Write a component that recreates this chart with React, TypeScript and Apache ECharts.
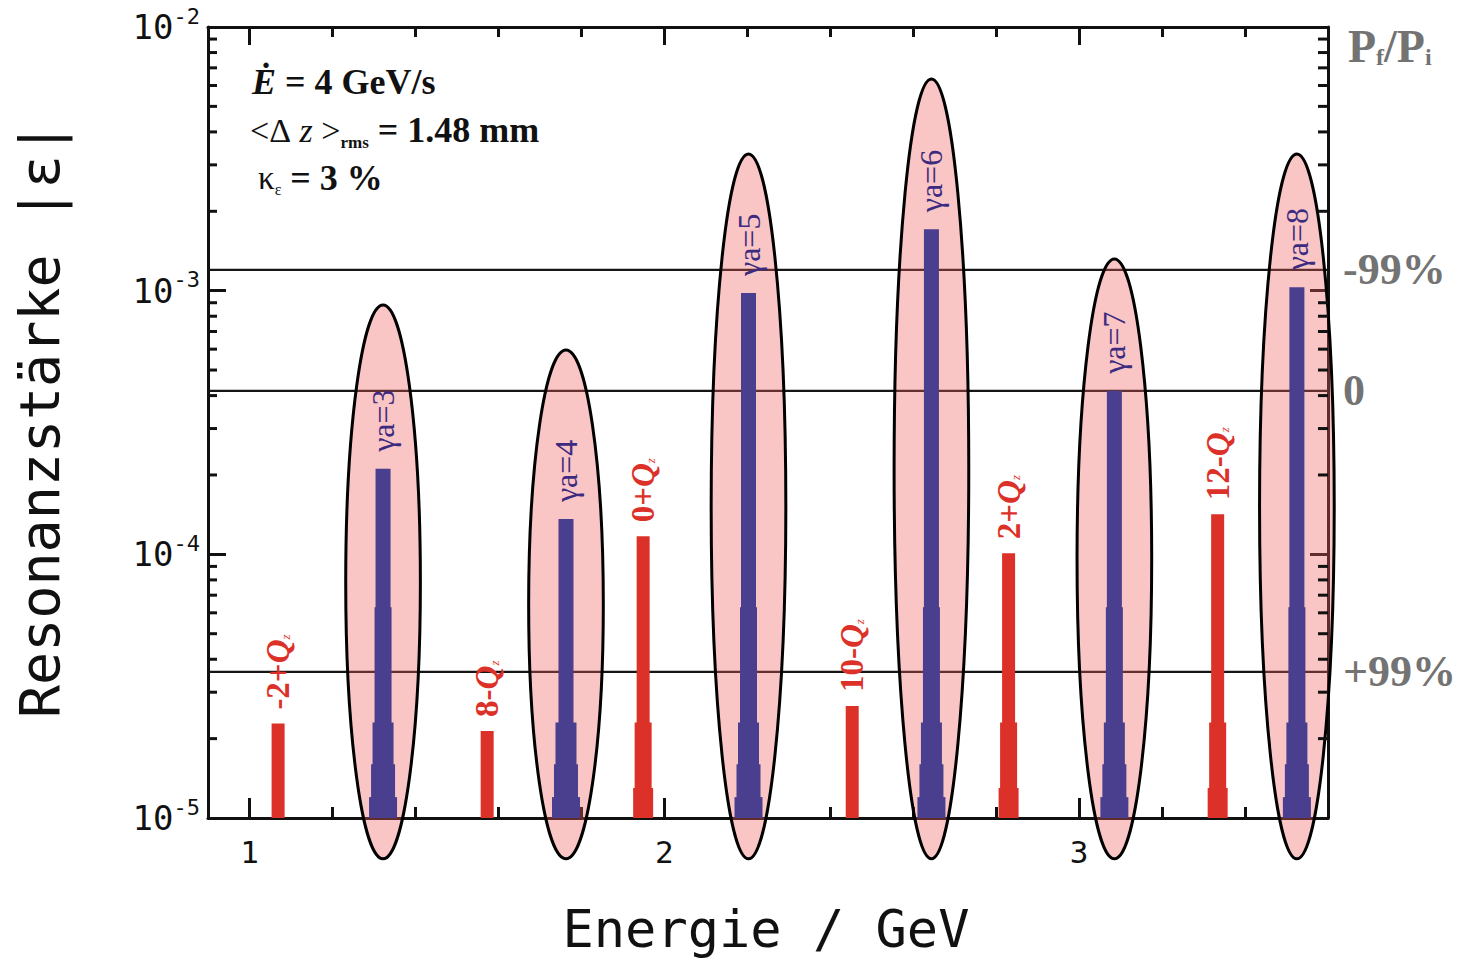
import React, { useEffect, useRef } from 'react';
import * as echarts from 'echarts';

// ---------------- data ----------------
const X_MIN = 0.9;
const X_MAX = 3.6;
const Y_MIN = 1e-5;
const Y_MAX = 1e-2;

// imperfection resonances (γa = integer)
const integerResEnergy = [1.322, 1.763, 2.203, 2.644, 3.085, 3.525];
const integerResStrength = [2.11e-4, 1.36e-4, 9.8e-4, 1.71e-3, 4.17e-4, 1.03e-3];
const integerResLabels = ['γa=3', 'γa=4', 'γa=5', 'γa=6', 'γa=7', 'γa=8'];
const ellipseTop = [8.83e-4, 5.96e-4, 3.3e-3, 6.35e-3, 1.32e-3, 3.3e-3];
const ellipseBottom = 7.0e-6;
const ellipseHalfWidth = 0.09; // GeV

// intrinsic resonances (k ± Qz)
const intrinsicResEnergy = [1.069, 1.573, 1.949, 2.453, 2.83, 3.334];
const intrinsicResStrength = [2.28e-5, 2.14e-5, 1.17e-4, 2.66e-5, 1.01e-4, 1.42e-4];
const intrinsicPrefix = ['-2+', '8-', '0+', '10-', '2+', '12-'];

// polarisation reference levels (right scale)
const polarizationLevels = [1.2e-3, 4.17e-4, 3.58e-5];
const polarizationLabels = ['-99%', '0', '+99%'];

// tick values
const xMajorTicks = [1, 2, 3];
const xMinorTicks = [1.2, 1.4, 1.6, 1.8, 2.2, 2.4, 2.6, 2.8, 3.2, 3.4];
const yMinorTicks = [
  2e-5, 3e-5, 4e-5, 5e-5, 6e-5, 7e-5, 8e-5, 9e-5,
  2e-4, 3e-4, 4e-4, 5e-4, 6e-4, 7e-4, 8e-4, 9e-4,
  2e-3, 3e-3, 4e-3, 5e-3, 6e-3, 7e-3, 8e-3, 9e-3,
];

// ---------------- styles ----------------
const MONO = '"DejaVu Sans Mono", monospace';
const SERIF = '"Liberation Serif", "DejaVu Serif", serif';
const RED = '#dc3129';
const BLUE = '#4a3f8f';
const BLUE_TEXT = '#3d2b7f';
const GRAY = '#737373';
const FRAME = '#111';

const BLUE_STEPS: [number, number][] = [[6.3e-5, 17], [2.3e-5, 21], [1.6e-5, 24], [1.2e-5, 28]];
const RED_STEPS: [number, number][] = [[6.3e-5, 15], [2.3e-5, 17], [1.3e-5, 20]];

function makeBarRender(
  color: string,
  width: number,
  steps: [number, number][],
  gap: number,
  labelStyle: (i: number) => any
) {
  return (params: any, api: any) => {
    const e = api.value(0);
    const v = api.value(1);
    const top = api.coord([e, v]);
    const by = api.coord([e, Y_MIN])[1];
    const cx = top[0];
    const children: any[] = [];
    steps.forEach(([lvl, w]) => {
      if (v > 3 * lvl) {
        const sy = api.coord([e, lvl])[1];
        children.push({
          type: 'rect',
          shape: { x: cx - w / 2, y: sy, width: w, height: by - sy },
          style: { fill: color },
        });
      }
    });
    children.push({
      type: 'rect',
      shape: { x: cx - width / 2, y: top[1], width, height: by - top[1] },
      style: { fill: color },
    });
    children.push({
      type: 'text',
      x: cx,
      y: top[1] - gap,
      rotation: Math.PI / 2,
      style: labelStyle(params.dataIndex),
    });
    return { type: 'group', children };
  };
}

function ellipseRender(mode: 'fill' | 'stroke') {
  return (params: any, api: any) => {
    const e = api.value(0);
    const t = api.value(1);
    const c = api.coord([e, t]);
    const l = api.coord([e - ellipseHalfWidth, t]);
    const b = api.coord([e, ellipseBottom]);
    const rx = c[0] - l[0];
    const ry = (b[1] - c[1]) / 2;
    return {
      type: 'ellipse',
      shape: { cx: c[0], cy: c[1] + ry, rx, ry },
      style:
        mode === 'fill'
          ? { fill: 'rgba(238, 95, 95, 0.36)', stroke: 'none' }
          : { fill: 'none', stroke: '#000', lineWidth: 3 },
    };
  };
}

function buildOption(): any {
  const intrinsicData = intrinsicResEnergy.map((e, i) => [e, intrinsicResStrength[i]]);
  const integerData = integerResEnergy.map((e, i) => [e, integerResStrength[i]]);
  const ellipseData = integerResEnergy.map((e, i) => [e, ellipseTop[i]]);
  const minorTickData = yMinorTicks.map((v) => [X_MIN, v]);
  const levelData = polarizationLevels.map((v) => [X_MIN, v]);

  const xBase = {
    type: 'value',
    min: X_MIN,
    max: X_MAX,
    splitLine: { show: false },
    axisLine: { show: true, lineStyle: { color: FRAME, width: 3 } },
  };

  const yBase = {
    type: 'log',
    logBase: 10,
    min: Y_MIN,
    max: Y_MAX,
    splitLine: { show: false },
    minorTick: { show: false },
    axisLine: { show: true, lineStyle: { color: FRAME, width: 3 } },
    axisTick: { show: true, inside: true, length: 18, lineStyle: { color: FRAME, width: 3 } },
  };

  return {
    animation: false,
    backgroundColor: '#fff',
    grid: { left: 208, right: 141, top: 27, bottom: 146, containLabel: false },
    xAxis: [
      {
        ...xBase,
        position: 'bottom',
        axisTick: {
          show: true,
          inside: true,
          length: 20,
          customValues: xMajorTicks,
          lineStyle: { color: FRAME, width: 3 },
        },
        axisLabel: {
          show: true,
          customValues: xMajorTicks,
          margin: 18,
          fontFamily: MONO,
          fontSize: 31,
          color: FRAME,
          formatter: (v: number) => String(Math.round(v)),
        },
      },
      {
        ...xBase,
        position: 'bottom',
        axisLine: { show: false },
        axisTick: {
          show: true,
          inside: true,
          length: 11,
          customValues: xMinorTicks,
          lineStyle: { color: FRAME, width: 3 },
        },
        axisLabel: { show: false },
      },
      {
        ...xBase,
        position: 'top',
        axisTick: {
          show: true,
          inside: true,
          length: 18,
          customValues: xMajorTicks,
          lineStyle: { color: FRAME, width: 3 },
        },
        axisLabel: { show: false },
      },
      {
        ...xBase,
        position: 'top',
        axisLine: { show: false },
        axisTick: {
          show: true,
          inside: true,
          length: 10,
          customValues: xMinorTicks,
          lineStyle: { color: FRAME, width: 3 },
        },
        axisLabel: { show: false },
      },
    ],
    yAxis: [
      {
        ...yBase,
        position: 'left',
        axisLabel: {
          show: true,
          margin: 8,
          formatter: (v: number) => `{b|10}{s|${Math.round(Math.log10(v))}}`,
          rich: {
            b: { fontFamily: MONO, fontSize: 34, color: FRAME },
            s: { fontFamily: MONO, fontSize: 22, color: FRAME, padding: [0, 0, 22, 0] },
          },
        },
      },
      {
        ...yBase,
        position: 'right',
        axisLabel: { show: false },
      },
    ],
    series: [
      {
        type: 'custom',
        name: 'levels',
        z: 1,
        silent: true,
        clip: false,
        data: levelData,
        renderItem: (params: any, api: any) => {
          const v = api.value(1);
          const l = api.coord([X_MIN, v]);
          const r = api.coord([X_MAX, v]);
          return {
            type: 'group',
            children: [
              {
                type: 'line',
                shape: { x1: l[0], y1: l[1], x2: r[0], y2: r[1] },
                style: { stroke: '#151515', lineWidth: 2.2 },
              },
              {
                type: 'text',
                x: r[0] + 15,
                y: r[1],
                style: {
                  text: polarizationLabels[params.dataIndex],
                  fontFamily: SERIF,
                  fontWeight: 'bold',
                  fontSize: 44,
                  fill: GRAY,
                  align: 'left',
                  verticalAlign: 'middle',
                  textAlign: 'left',
                  textVerticalAlign: 'middle',
                },
              },
            ],
          };
        },
      },
      {
        type: 'custom',
        name: 'ellipse-fill',
        z: 2,
        silent: true,
        clip: false,
        data: ellipseData,
        renderItem: ellipseRender('fill'),
      },
      {
        type: 'custom',
        name: 'intrinsic',
        z: 3,
        silent: true,
        clip: false,
        data: intrinsicData,
        renderItem: makeBarRender(RED, 13, RED_STEPS, 14, (i) => ({
          text: `{p|${intrinsicPrefix[i]}}{q|Q}{z|z}`,
          align: 'left',
          verticalAlign: 'middle',
          textAlign: 'left',
          textVerticalAlign: 'middle',
          rich: {
            p: { fontFamily: SERIF, fontWeight: 'bold', fontSize: 33, fill: RED, color: RED },
            q: { fontFamily: SERIF, fontWeight: 'bold', fontStyle: 'italic', fontSize: 33, fill: RED, color: RED },
            z: { fontFamily: SERIF, fontStyle: 'italic', fontSize: 13, fill: RED, color: RED, padding: [14, 0, 0, 0] },
          },
        })),
      },
      {
        type: 'custom',
        name: 'integer',
        z: 3,
        silent: true,
        clip: false,
        data: integerData,
        renderItem: makeBarRender(BLUE, 15, BLUE_STEPS, 17, (i) => ({
          text: integerResLabels[i],
          fontFamily: SERIF,
          fontSize: 32,
          fill: BLUE_TEXT,
          align: 'left',
          verticalAlign: 'middle',
          textAlign: 'left',
          textVerticalAlign: 'middle',
        })),
      },
      {
        type: 'custom',
        name: 'ellipse-outline',
        z: 4,
        silent: true,
        clip: false,
        data: ellipseData,
        renderItem: ellipseRender('stroke'),
      },
      {
        type: 'custom',
        name: 'minor-y-ticks',
        z: 5,
        silent: true,
        clip: false,
        data: minorTickData,
        renderItem: (params: any, api: any) => {
          const v = api.value(1);
          const l = api.coord([X_MIN, v]);
          const r = api.coord([X_MAX, v]);
          const ls = { stroke: FRAME, lineWidth: 3 };
          return {
            type: 'group',
            children: [
              { type: 'line', shape: { x1: l[0], y1: l[1], x2: l[0] + 9, y2: l[1] }, style: ls },
              { type: 'line', shape: { x1: r[0], y1: r[1], x2: r[0] - 10, y2: r[1] }, style: ls },
            ],
          };
        },
      },
    ],
    graphic: [
      {
        type: 'text',
        x: 40,
        y: 420,
        rotation: Math.PI / 2,
        silent: true,
        style: {
          text: 'Resonanzstärke |ε|',
          fontFamily: MONO,
          fontSize: 55,
          fill: FRAME,
          align: 'center',
          verticalAlign: 'middle',
          textAlign: 'center',
          textVerticalAlign: 'middle',
        },
      },
      {
        type: 'text',
        x: 766,
        y: 929,
        silent: true,
        style: {
          text: 'Energie / GeV',
          fontFamily: MONO,
          fontSize: 52,
          fill: FRAME,
          align: 'center',
          verticalAlign: 'middle',
          textAlign: 'center',
          textVerticalAlign: 'middle',
        },
      },
      {
        type: 'text',
        x: 1348,
        y: 46,
        silent: true,
        style: {
          text: '{p|P}{s|f}{p|/P}{s|i}',
          align: 'left',
          verticalAlign: 'middle',
          textAlign: 'left',
          textVerticalAlign: 'middle',
          rich: {
            p: { fontFamily: SERIF, fontWeight: 'bold', fontSize: 46, fill: GRAY, color: GRAY },
            s: { fontFamily: SERIF, fontWeight: 'bold', fontSize: 24, fill: GRAY, color: GRAY, padding: [22, 0, 0, 0] },
          },
        },
      },
      {
        type: 'text',
        x: 252,
        y: 82,
        silent: true,
        style: {
          text: '{ei|Ė}{b| = 4 GeV/s}',
          align: 'left',
          verticalAlign: 'middle',
          textAlign: 'left',
          textVerticalAlign: 'middle',
          rich: {
            ei: { fontFamily: SERIF, fontWeight: 'bold', fontStyle: 'italic', fontSize: 36, fill: FRAME, color: FRAME },
            b: { fontFamily: SERIF, fontWeight: 'bold', fontSize: 36, fill: FRAME, color: FRAME },
          },
        },
      },
      {
        type: 'text',
        x: 250,
        y: 130,
        silent: true,
        style: {
          text: '{r|<Δ }{zi|z}{r| >}{sub|rms}{b| = 1.48 mm}',
          align: 'left',
          verticalAlign: 'middle',
          textAlign: 'left',
          textVerticalAlign: 'middle',
          rich: {
            r: { fontFamily: SERIF, fontSize: 34, fill: FRAME, color: FRAME },
            zi: { fontFamily: SERIF, fontStyle: 'italic', fontSize: 34, fill: FRAME, color: FRAME },
            sub: { fontFamily: SERIF, fontWeight: 'bold', fontSize: 17, fill: FRAME, color: FRAME, padding: [24, 0, 0, 0] },
            b: { fontFamily: SERIF, fontWeight: 'bold', fontSize: 36, fill: FRAME, color: FRAME },
          },
        },
      },
      {
        type: 'text',
        x: 258,
        y: 178,
        silent: true,
        style: {
          text: '{r|κ}{sub|ε}{b| = 3 %}',
          align: 'left',
          verticalAlign: 'middle',
          textAlign: 'left',
          textVerticalAlign: 'middle',
          rich: {
            r: { fontFamily: SERIF, fontSize: 33, fill: FRAME, color: FRAME },
            sub: { fontFamily: SERIF, fontSize: 16, fill: FRAME, color: FRAME, padding: [22, 0, 0, 0] },
            b: { fontFamily: SERIF, fontWeight: 'bold', fontSize: 36, fill: FRAME, color: FRAME },
          },
        },
      },
    ],
  };
}

export default function App() {
  const ref = useRef<HTMLDivElement>(null);
  useEffect(() => {
    if (!ref.current) return;
    const chart = echarts.init(ref.current, undefined, { renderer: 'svg' });
    chart.setOption(buildOption());
    return () => chart.dispose();
  }, []);
  return (
    <div
      ref={ref}
      style={{ position: 'absolute', left: 0, top: 0, width: 1469, height: 964, background: '#fff' }}
    />
  );
}
